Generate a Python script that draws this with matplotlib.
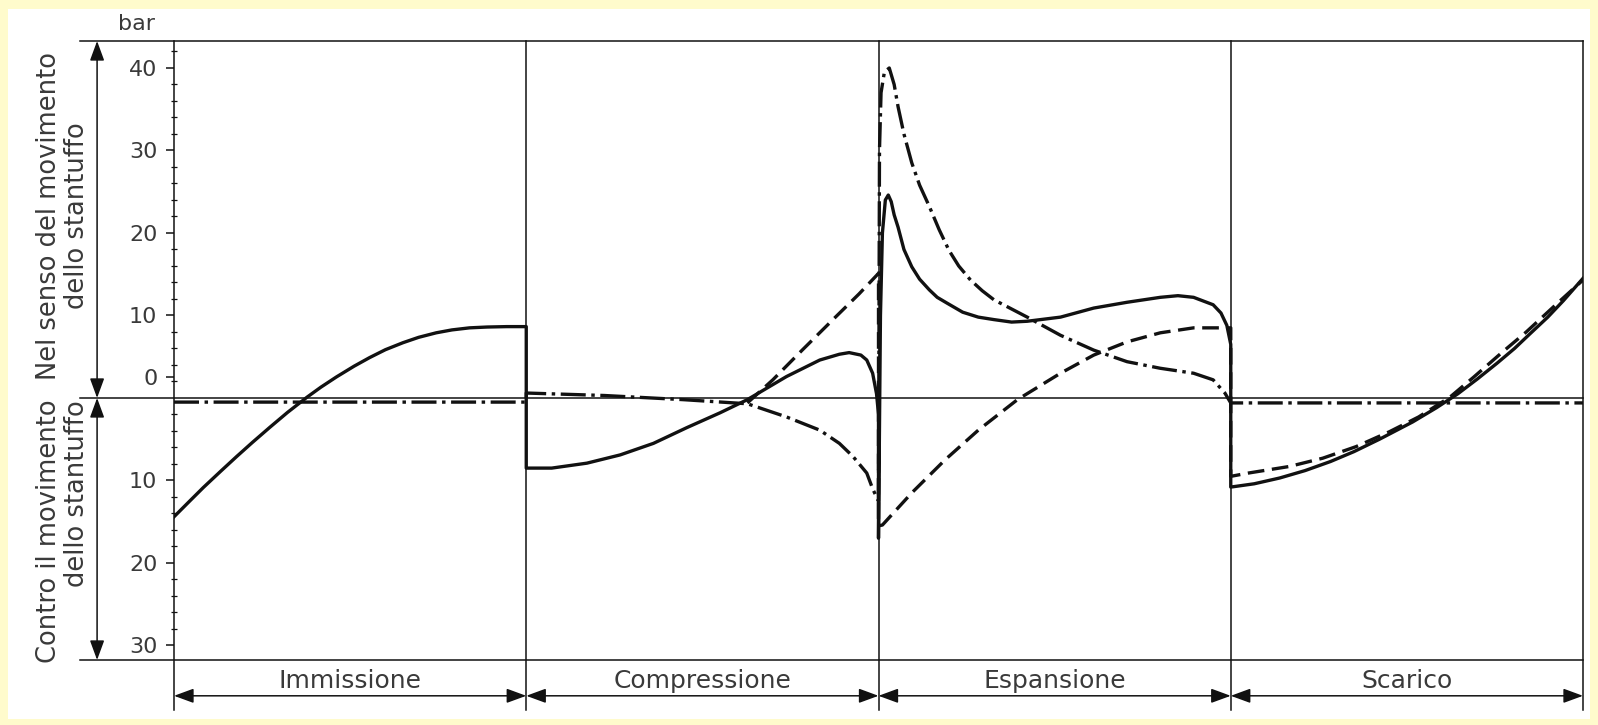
#forze agenti sullo stantuffo nei quattro tempi
import matplotlib
matplotlib.use('Agg')
import matplotlib.pyplot as plt
from matplotlib.patches import Rectangle

# angolo di manovella (gradi) e forze (bar) lette dal grafico
# forza risultante (linea continua)
ang_tot = [0, 8, 15, 24, 32, 40, 49, 58, 68, 75, 83, 92, 100, 108, 117, 125, 134, 142, 151, 160, 170, 180,
           180, 193, 211, 228, 245, 262, 279, 293, 313, 330, 340, 345, 351, 354, 357, 359, 360,
           360, 361, 362, 363.5, 365, 366.5, 368, 370, 373, 377, 381, 386, 390, 395, 403, 411,
           419, 428, 436, 453, 470, 487, 504, 513, 521, 531, 535, 538, 540,
           540, 552, 565, 578, 591, 603, 616, 633, 645, 656, 666, 676, 685, 693, 702, 710, 720]
f_tot = [-14.4, -12.5, -10.85, -8.85, -7.1, -5.4, -3.55, -1.75, 0.1, 1.3, 2.55, 3.85, 4.9, 5.85, 6.7,
         7.35, 7.9, 8.25, 8.5, 8.6, 8.65, 8.65,
         -8.5, -8.5, -7.9, -6.9, -5.5, -3.6, -1.8, -0.2, 2.6, 4.6, 5.3, 5.5, 5.2, 4.6, 3.0, 0.5, -2.0,
         -17.0, 10.0, 20.0, 24.0, 24.6, 23.8, 22.2, 20.7, 18.0, 15.9, 14.4, 13.1, 12.2, 11.5, 10.4, 9.8,
         9.5, 9.2, 9.3, 9.8, 10.9, 11.6, 12.2, 12.4, 12.2, 11.3, 10.3, 8.8, 6.5,
         -10.8, -10.4, -9.7, -8.8, -7.7, -6.5, -5.0, -2.9, -1.2, 0.5, 2.3, 4.2, 6.0, 7.8, 9.8, 11.8, 14.5]

# forza d'inerzia (tratteggio)
ang_ine = [293, 306, 321, 338, 350, 360,
           360, 362, 377, 394, 411, 431, 453, 470, 487, 504, 521, 540,
           540, 549, 570, 587, 604, 621, 636, 652, 664, 679, 691, 707, 720]
f_ine = [-0.6, 2.2, 5.8, 9.8, 12.6, 15.1,
         -15.5, -15.4, -11.5, -7.5, -3.9, -0.2, 3.0, 5.2, 6.8, 7.9, 8.5, 8.5,
         -9.5, -9.1, -8.3, -7.3, -5.9, -4.1, -2.3, 0.1, 2.5, 5.6, 8.0, 11.5, 14.3]

# forza dei gas (tratto-punto)
ang_gas = [0, 180, 180, 220, 260, 293, 313, 330, 340, 347, 354, 357, 360,
           360.5, 361.3, 363, 365.5, 368, 370, 373, 377, 381, 386, 391, 396, 401, 407, 413, 419,
           436, 453, 470, 487, 504, 521, 531, 537, 540, 720]
f_gas = [-0.5, -0.5, 0.6, 0.3, -0.2, -0.7, -2.3, -3.9, -5.5, -7.1, -9.1, -11.0, -12.5,
         30.0, 37.0, 39.5, 40.0, 38.0, 35.3, 32.0, 28.5, 25.8, 23.2, 20.4, 17.9, 16.0, 14.3, 13.0, 11.9,
         9.8, 7.6, 5.8, 4.4, 3.6, 3.0, 2.2, 0.6, -0.6, -0.6]

fasi = ['Immissione', 'Compressione', 'Espansione', 'Scarico']
limiti_fasi = [0, 180, 360, 540, 720]
yticks = [40, 30, 20, 10, 2.5, -10, -20, -30]
ytick_labels = ['40', '30', '20', '10', '0', '10', '20', '30']

plt.rcParams['font.family'] = 'DejaVu Sans'
plt.rcParams['lines.scale_dashes'] = False

W, H = 1598, 725
fig = plt.figure(figsize=(W / 100, H / 100), dpi=100, facecolor='#FFFBCC')
fig.add_artist(Rectangle((8 / W, 1 - 719 / H), (1590 - 8) / W, (719 - 9) / H,
                         transform=fig.transFigure, facecolor='white', edgecolor='none', zorder=-5))

ax = fig.add_axes([174 / W, 1 - 660 / H, (1583 - 174) / W, (660 - 41) / H])
ax.patch.set_visible(False)
ax.set_xlim(0, 720)
ax.set_ylim(-31.76, 43.27)
for s in ax.spines.values():
    s.set_visible(False)

col = '#111111'
txt = '#3a3a3a'
x_left = -48     # inizio delle linee orizzontali a sinistra
y_low = -37.8    # fine in basso delle linee verticali

# curve
ax.plot(ang_tot, f_tot, color=col, lw=2.4, solid_joinstyle='round', zorder=4)
ax.plot(ang_ine, f_ine, color=col, lw=2.4, dashes=(12, 5.5), zorder=3)
ax.plot(ang_gas, f_gas, color=col, lw=2.4, dashes=(18, 4, 2.5, 4), zorder=3)

# linee di riferimento
for yy in [43.27, 0, -31.76]:
    ax.plot([x_left, 720], [yy, yy], color=col, lw=1.1, clip_on=False, zorder=2)
for xx in limiti_fasi:
    ax.plot([xx, xx], [43.27, y_low], color=col, lw=1.1, clip_on=False, zorder=2)

# asse y
ax.set_xticks([])
ax.set_yticks(yticks)
ax.set_yticklabels(ytick_labels, color=txt, fontsize=16)
ax.set_yticks([v for v in range(-30, 43, 2) if v % 10 != 0], minor=True)
ax.tick_params(axis='y', which='major', direction='out', length=6, width=1.1, pad=6, color=col)
ax.tick_params(axis='y', which='minor', direction='inout', length=4, width=0.9, color=col)
ax.text(-19, 45.3, 'bar', ha='center', va='center', fontsize=16, color=txt)

# frecce e testi a sinistra
arrow = dict(arrowstyle='<|-|>,head_length=0.6,head_width=0.22', color=col, lw=1.1,
             shrinkA=0, shrinkB=0, mutation_scale=20)
ax.annotate('', xy=(-39.3, 43.27), xytext=(-39.3, 0), arrowprops=arrow, annotation_clip=False)
ax.annotate('', xy=(-39.3, 0), xytext=(-39.3, -31.76), arrowprops=arrow, annotation_clip=False)
ax.text(-56.7, 22.1, 'Nel senso del movimento\ndello stantuffo', rotation=90, ha='center',
        va='center', multialignment='center', fontsize=18.5, color=txt, linespacing=1.1)
ax.text(-56.7, -16.2, 'Contro il movimento\ndello stantuffo', rotation=90, ha='center',
        va='center', multialignment='right', fontsize=18.5, color=txt, linespacing=1.1)

# fasi in basso
for i, nome in enumerate(fasi):
    a, b = limiti_fasi[i], limiti_fasi[i + 1]
    ax.annotate('', xy=(a, -36.1), xytext=(b, -36.1), arrowprops=arrow, annotation_clip=False)
    ax.text((a + b) / 2, -35.2, nome, ha='center', va='baseline', fontsize=18, color=txt)

fig.savefig('out.png', dpi=100, facecolor=fig.get_facecolor())
